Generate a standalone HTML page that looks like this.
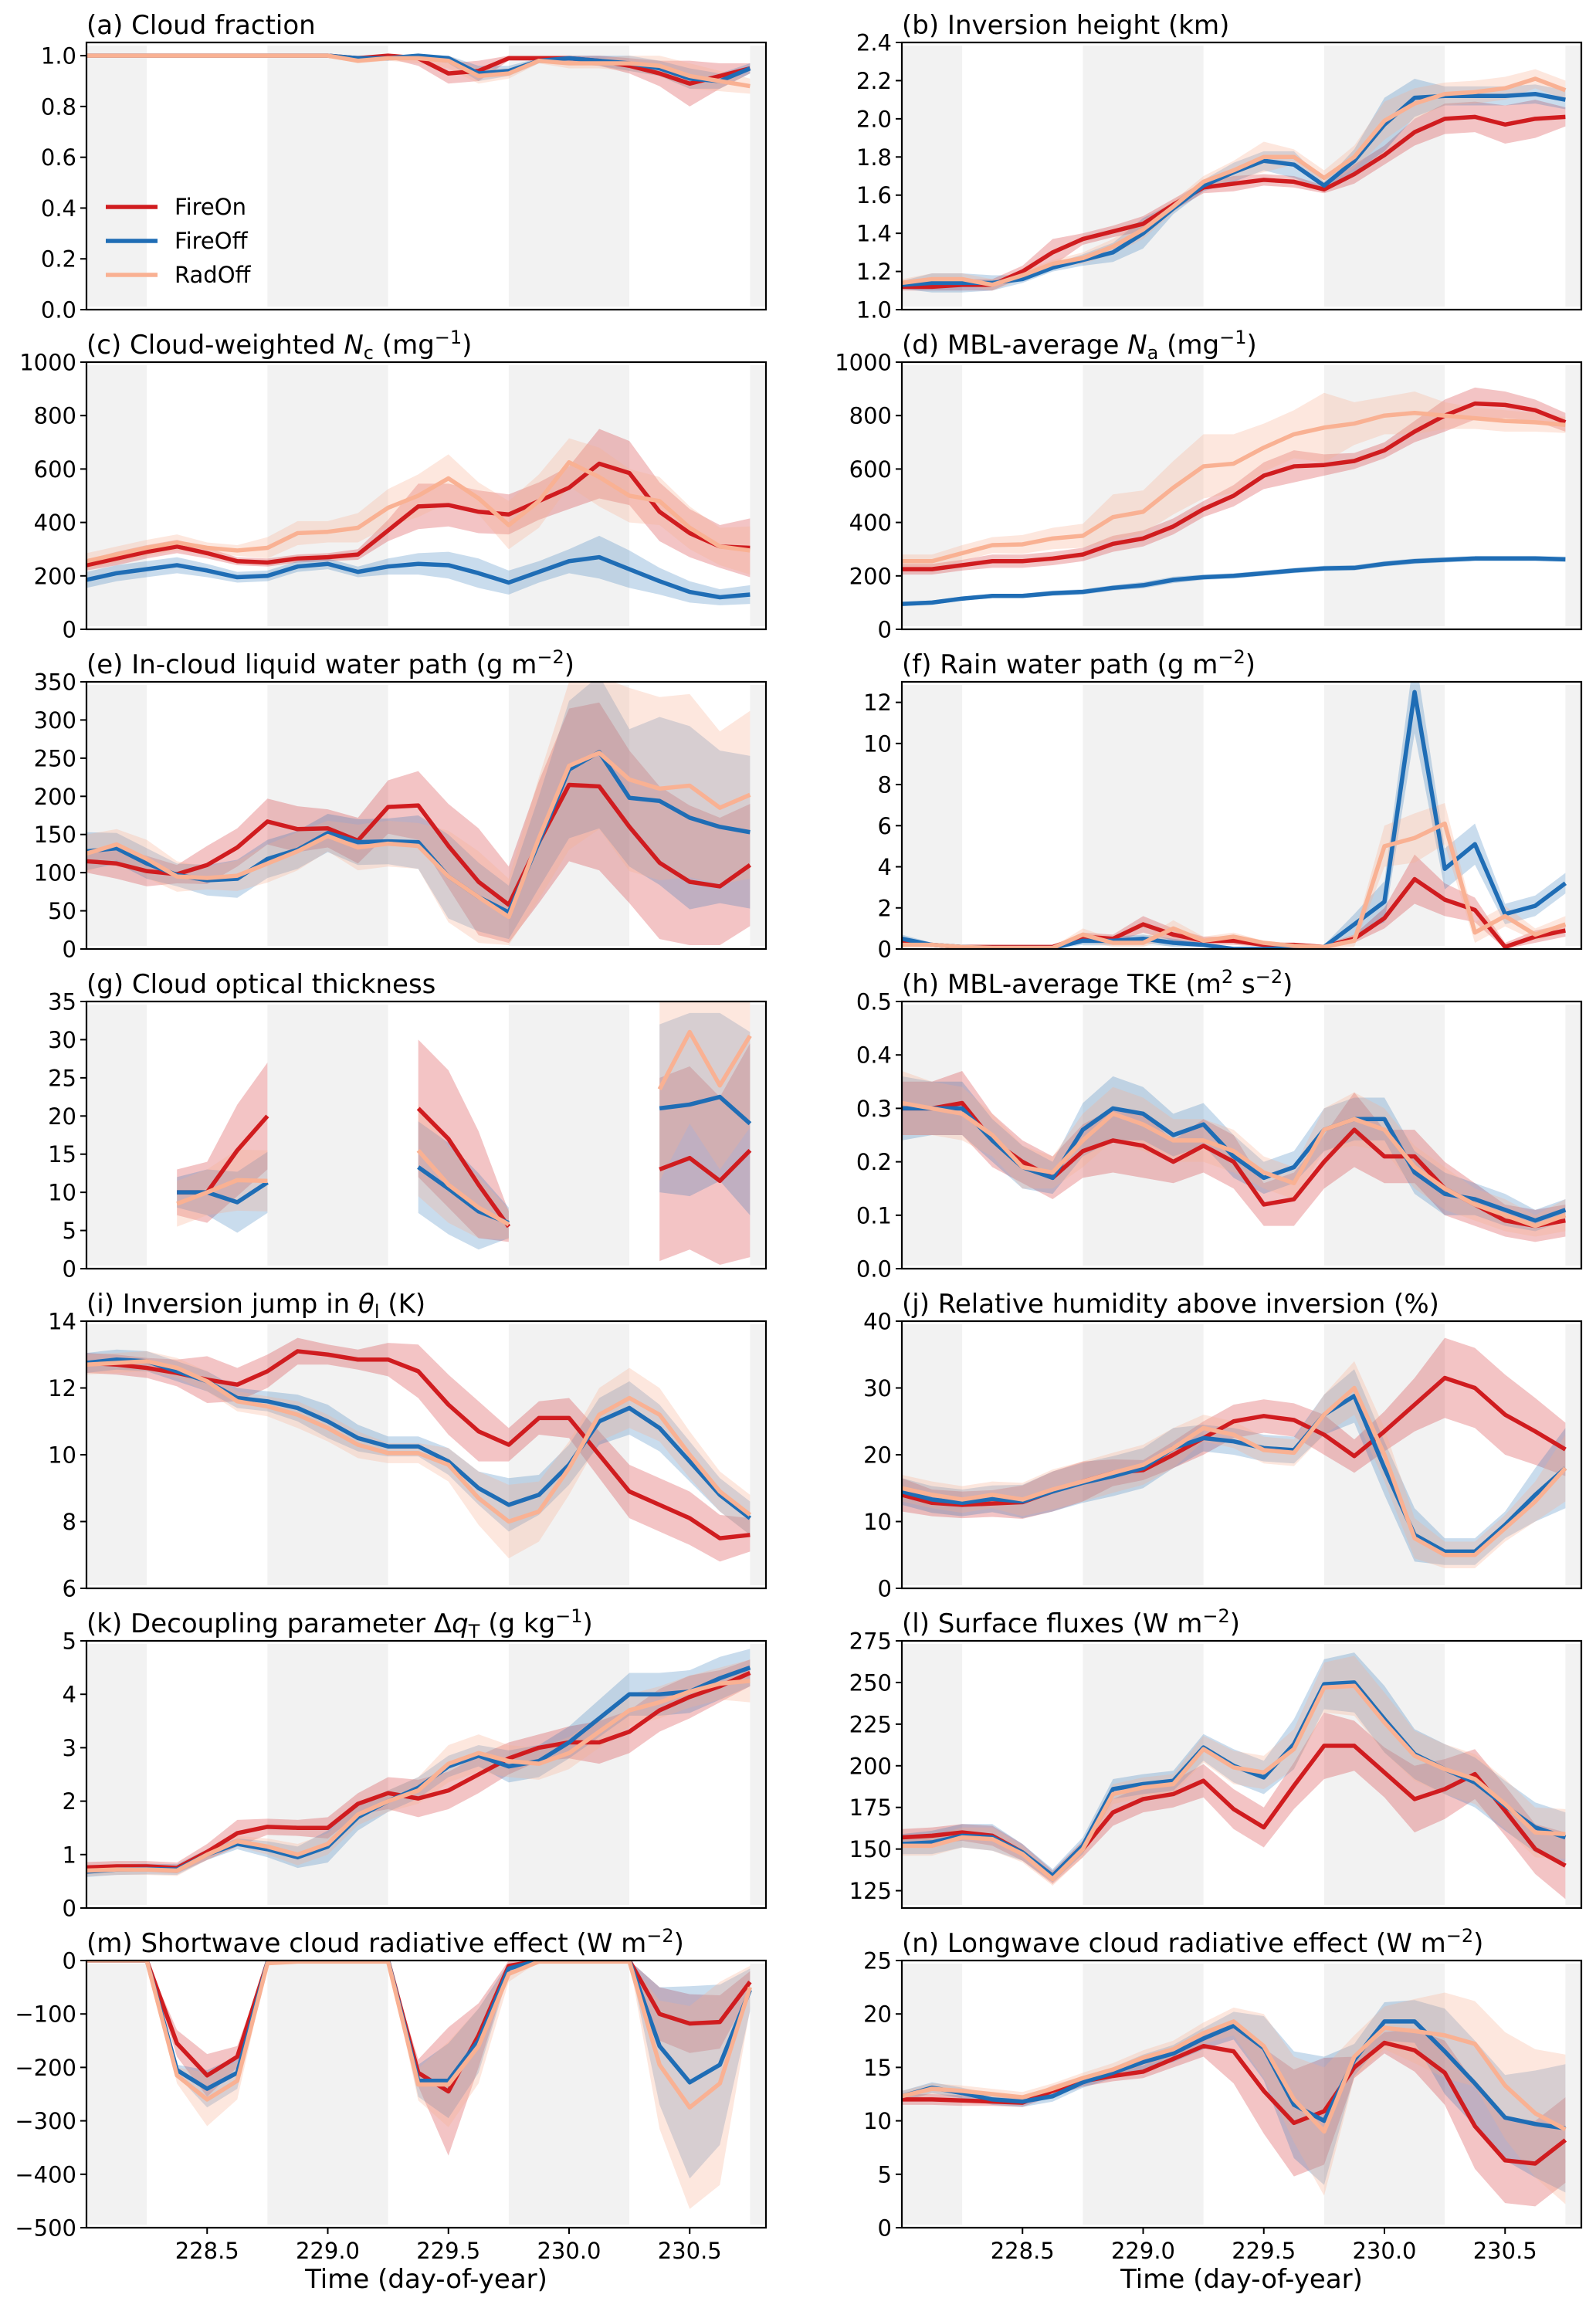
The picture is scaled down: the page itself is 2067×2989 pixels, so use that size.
<!DOCTYPE html>
<html><head><meta charset="utf-8"><style>
html,body{margin:0;padding:0;background:#fff;}
svg{display:block;font-family:"DejaVu Sans","Liberation Sans",sans-serif;}
.ttl{font-size:34px;fill:#000;}
.tk{font-size:29px;fill:#000;}
</style></head><body>
<svg id="fig" xmlns="http://www.w3.org/2000/svg" width="2067" height="2989" viewBox="0 0 2067 2989">
<rect x="0" y="0" width="2067" height="2989" fill="#fff"/>
<g id="titles">
<text class="ttl" x="112" y="44">(a) Cloud fraction</text>
<text class="ttl" x="1168" y="44">(b) Inversion height (km)</text>
<text class="ttl" x="112" y="458">(c) Cloud-weighted <tspan font-style="italic">N</tspan><tspan font-size="24" dy="7">c</tspan><tspan dy="-7"> (mg</tspan><tspan font-size="24" dy="-13">−1</tspan><tspan dy="13">)</tspan></text>
<text class="ttl" x="1168" y="458">(d) MBL-average <tspan font-style="italic">N</tspan><tspan font-size="24" dy="7">a</tspan><tspan dy="-7"> (mg</tspan><tspan font-size="24" dy="-13">−1</tspan><tspan dy="13">)</tspan></text>
<text class="ttl" x="112" y="872">(e) In-cloud liquid water path (g m<tspan font-size="24" dy="-13">−2</tspan><tspan dy="13">)</tspan></text>
<text class="ttl" x="1168" y="872">(f) Rain water path (g m<tspan font-size="24" dy="-13">−2</tspan><tspan dy="13">)</tspan></text>
<text class="ttl" x="112" y="1286">(g) Cloud optical thickness</text>
<text class="ttl" x="1168" y="1286">(h) MBL-average TKE (m<tspan font-size="24" dy="-13">2</tspan><tspan dy="13"> s</tspan><tspan font-size="24" dy="-13">−2</tspan><tspan dy="13">)</tspan></text>
<text class="ttl" x="112" y="1700">(i) Inversion jump in <tspan font-style="italic">θ</tspan><tspan font-size="24" dy="7">l</tspan><tspan dy="-7"> (K)</tspan></text>
<text class="ttl" x="1168" y="1700">(j) Relative humidity above inversion (%)</text>
<text class="ttl" x="112" y="2114">(k) Decoupling parameter Δ<tspan font-style="italic">q</tspan><tspan font-size="24" dy="7">T</tspan><tspan dy="-7"> (g kg</tspan><tspan font-size="24" dy="-13">−1</tspan><tspan dy="13">)</tspan></text>
<text class="ttl" x="1168" y="2114">(l) Surface fluxes (W m<tspan font-size="24" dy="-13">−2</tspan><tspan dy="13">)</tspan></text>
<text class="ttl" x="112" y="2528">(m) Shortwave cloud radiative effect (W m<tspan font-size="24" dy="-13">−2</tspan><tspan dy="13">)</tspan></text>
<text class="ttl" x="1168" y="2528">(n) Longwave cloud radiative effect (W m<tspan font-size="24" dy="-13">−2</tspan><tspan dy="13">)</tspan></text>
</g>
<text class="ttl" x="552" y="2963" text-anchor="middle" font-size="33">Time (day-of-year)</text>
<text class="ttl" x="1608" y="2963" text-anchor="middle" font-size="33">Time (day-of-year)</text>
<g id="plots"></g>
<g id="legend">
<line x1="137" y1="268" x2="204" y2="268" stroke="#d01c1f" stroke-width="5.5"/>
<text class="tk" x="226" y="278">FireOn</text>
<line x1="137" y1="312" x2="204" y2="312" stroke="#1f6db5" stroke-width="5.5"/>
<text class="tk" x="226" y="322">FireOff</text>
<line x1="137" y1="356" x2="204" y2="356" stroke="#f9b193" stroke-width="5.5"/>
<text class="tk" x="226" y="366">RadOff</text>
</g>
</svg>
<script>
const T=[228.0,228.125,228.25,228.375,228.5,228.625,228.75,228.875,229.0,229.125,229.25,229.375,229.5,229.625,229.75,229.875,230.0,230.125,230.25,230.375,230.5,230.625,230.75];
const xTicks=[228.5,229.0,229.5,230.0,230.5];
const xTickLabels=["228.5","229.0","229.5","230.0","230.5"];
const nights=[[227.9,228.25],[228.75,229.25],[229.75,230.25],[230.75,231]];
const n_=null;
// (a)
const aR=[1,1,1,1,1,1,1,1,1,0.99,1,0.99,0.93,0.94,0.99,0.99,0.99,0.98,0.96,0.93,0.89,0.92,0.95];
const aB=[1,1,1,1,1,1,1,1,1,0.99,0.99,1,0.99,0.93,0.94,0.98,0.99,0.98,0.97,0.95,0.91,0.9,0.95];
const aO=[1,1,1,1,1,1,1,1,1,0.98,0.99,0.99,0.98,0.92,0.93,0.98,0.97,0.97,0.97,0.96,0.92,0.9,0.88];
const aRs=[.005,.005,.005,.005,.005,.005,.005,.005,.005,.01,.01,.03,.04,.04,.01,.01,.02,.02,.03,.05,.09,.05,.02];
const aBs=[.005,.005,.005,.005,.005,.005,.005,.005,.005,.01,.01,.01,.02,.03,.02,.01,.02,.02,.03,.03,.04,.03,.02];
const aOs=[.005,.005,.005,.005,.005,.005,.005,.005,.005,.01,.01,.02,.03,.03,.02,.01,.02,.02,.03,.04,.05,.04,.03];
// (b)
const bR=[1.12,1.12,1.13,1.13,1.2,1.3,1.37,1.41,1.45,1.55,1.64,1.66,1.68,1.67,1.63,1.71,1.81,1.93,2.0,2.01,1.97,2.0,2.01];
const bB=[1.13,1.14,1.14,1.14,1.16,1.22,1.26,1.3,1.4,1.53,1.65,1.72,1.78,1.76,1.65,1.78,1.97,2.11,2.12,2.12,2.12,2.13,2.1];
const bO=[1.14,1.16,1.16,1.13,1.18,1.24,1.27,1.33,1.42,1.54,1.67,1.73,1.8,1.8,1.69,1.8,1.99,2.08,2.13,2.14,2.16,2.21,2.15];
const bRs=[.02,.02,.03,.03,.03,.07,.03,.03,.04,.03,.03,.04,.03,.03,.02,.05,.05,.07,.08,.08,.1,.1,.05];
const bBs=[.02,.05,.05,.04,.02,.02,.03,.05,.08,.03,.03,.05,.05,.07,.02,.06,.14,.1,.05,.05,.05,.05,.05];
const bOs=[.02,.03,.03,.03,.02,.02,.03,.04,.05,.03,.03,.05,.08,.04,.04,.06,.1,.08,.06,.06,.06,.05,.05];
// (c)
const cR=[240,265,290,310,285,255,250,265,270,280,370,460,465,440,430,480,530,620,585,440,360,310,305];
const cB=[185,210,225,240,220,195,200,235,245,215,235,245,240,210,175,215,255,270,225,180,140,120,130];
const cO=[255,280,305,325,305,295,305,360,365,380,455,500,565,490,390,480,625,570,500,480,380,310,295];
const cRs=[20,25,25,25,20,15,15,15,15,20,40,85,80,80,75,70,80,130,120,110,90,80,110];
const cBs=[30,30,30,30,25,20,20,20,20,20,30,40,50,55,45,40,45,80,70,50,40,30,35];
const cOs=[30,30,30,30,20,20,40,45,40,55,70,80,90,60,90,100,90,110,100,90,80,70,90];
// (d)
const dR=[225,225,240,255,255,265,280,320,340,385,450,500,575,610,615,630,670,740,800,845,840,820,775];
const dB=[95,100,115,125,125,135,140,155,165,185,195,200,210,220,228,230,245,255,260,265,265,265,262];
const dO=[255,255,285,315,318,340,350,420,440,530,610,620,680,730,755,770,800,810,800,790,780,775,765];
const dRs=[20,20,20,25,25,25,25,30,30,30,30,40,50,60,40,30,30,40,60,60,50,40,35];
const dBs=[8,8,8,8,8,10,10,10,12,12,10,10,10,10,10,10,10,10,10,10,10,10,10];
const dOs=[25,25,30,30,35,40,45,85,80,100,120,110,90,90,130,80,70,80,50,40,40,35,30];
// (e)
const eR=[115,112,102,98,110,133,167,157,158,142,186,188,135,88,58,140,215,213,160,113,88,82,110];
const eB=[128,132,112,97,90,92,118,130,152,140,141,140,95,68,48,140,235,258,198,194,172,160,153];
const eO=[125,137,118,95,93,96,112,128,148,133,138,135,95,68,42,145,240,257,222,210,214,185,202];
const eRs=[15,20,20,12,25,25,30,30,25,30,35,45,55,70,50,80,100,110,100,100,100,90,80];
const eBs=[25,20,20,15,20,25,25,25,25,30,30,35,55,45,35,60,90,100,90,110,120,100,100];
const eOs=[25,20,25,20,15,20,25,25,20,30,30,30,60,60,50,80,110,100,120,120,120,100,110];
// (f)
const fR=[0.3,0.2,0.1,0.1,0.1,0.1,0.6,0.5,1.2,0.7,0.4,0.4,0.2,0.2,0.1,0.5,1.5,3.4,2.4,1.9,0.1,0.6,0.9];
const fB=[0.5,0.2,0.1,0.05,0.05,0.05,0.4,0.4,0.5,0.3,0.2,0.0,0.0,0.05,0.1,1.2,2.3,12.5,3.9,5.1,1.7,2.1,3.2];
const fO=[0.2,0.2,0.1,0.05,0.05,0.05,0.7,0.3,0.3,1.0,0.4,0.6,0.3,0.15,0.1,0.4,5.0,5.4,6.1,0.8,1.6,0.7,1.2];
const fRs=[.1,.1,.05,.05,.05,.05,.2,.2,.4,.3,.2,.2,.1,.1,.1,.2,.5,1.2,.8,.6,.2,.3,.3];
const fBs=[.2,.1,.05,.05,.05,.05,.2,.2,.2,.2,.1,.1,.1,.1,.1,.5,1,2,1,1,.5,.5,.5];
const fOs=[.1,.1,.05,.05,.05,.05,.3,.2,.2,.4,.2,.2,.1,.1,.1,.3,1,1.2,1,.5,.5,.3,.4];
// (g)
const gR=[n_,n_,n_,10,10,15.5,20,n_,n_,n_,n_,21,17,11,5.5,n_,n_,n_,n_,13,14.5,11.5,15.5];
const gB=[n_,n_,n_,10,10,8.7,11.3,n_,n_,n_,n_,13.3,10.5,7.5,6,n_,n_,n_,n_,21,21.5,22.5,19];
const gO=[n_,n_,n_,8.5,10,11.6,11.5,n_,n_,n_,n_,15.5,11,8,5.8,n_,n_,n_,n_,23.5,31,24,30.5];
const gRs=[n_,n_,n_,3,4,6,7,n_,n_,n_,n_,9,9,7,2,n_,n_,n_,n_,12,12,11,14];
const gBs=[n_,n_,n_,2,3,4,4,n_,n_,n_,n_,6,6,5,2,n_,n_,n_,n_,11,12,11,12];
const gOs=[n_,n_,n_,3,3,4,4,n_,n_,n_,n_,6,5,4,2,n_,n_,n_,n_,12,12,11,12];
// (h)
const hR=[0.30,0.30,0.31,0.24,0.20,0.17,0.22,0.24,0.23,0.20,0.23,0.20,0.12,0.13,0.20,0.26,0.21,0.21,0.15,0.12,0.09,0.08,0.09];
const hB=[0.30,0.30,0.30,0.24,0.19,0.17,0.26,0.30,0.29,0.25,0.27,0.21,0.17,0.19,0.26,0.28,0.28,0.18,0.14,0.13,0.11,0.09,0.11];
const hO=[0.31,0.30,0.29,0.25,0.19,0.18,0.24,0.29,0.27,0.24,0.24,0.22,0.18,0.16,0.26,0.28,0.26,0.19,0.15,0.12,0.10,0.08,0.10];
const hRs=[.05,.05,.06,.05,.04,.04,.05,.06,.06,.04,.05,.05,.04,.05,.05,.07,.05,.05,.05,.04,.03,.03,.03];
const hBs=[.06,.05,.05,.04,.04,.03,.05,.06,.05,.04,.04,.04,.03,.03,.04,.04,.04,.04,.04,.03,.03,.02,.02];
const hOs=[.06,.05,.05,.04,.04,.03,.05,.05,.05,.04,.04,.04,.03,.03,.04,.05,.04,.04,.04,.03,.03,.02,.03];
// (i)
const iR=[12.75,12.7,12.6,12.45,12.25,12.1,12.5,13.1,13.0,12.85,12.85,12.5,11.5,10.7,10.3,11.1,11.1,10.0,8.9,8.5,8.1,7.5,7.6];
const iB=[12.75,12.85,12.8,12.5,12.2,11.7,11.6,11.4,11.0,10.5,10.25,10.25,9.8,9.0,8.5,8.8,9.7,11.0,11.4,10.8,9.8,8.8,8.1];
const iO=[12.7,12.75,12.8,12.6,12.2,11.6,11.45,11.2,10.8,10.3,10.05,10.05,9.7,8.7,8.0,8.3,9.6,11.2,11.7,11.2,10.0,8.9,8.2];
const iRs=[.3,.3,.3,.4,.7,.5,.5,.4,.3,.3,.5,.8,.9,.9,.5,.5,.6,.7,.8,.8,.8,.7,.5];
const iBs=[.3,.3,.3,.3,.3,.3,.3,.4,.5,.4,.3,.3,.4,.5,.8,.6,.6,.7,.8,.7,.6,.5,.5];
const iOs=[.3,.3,.3,.3,.3,.3,.3,.4,.4,.4,.3,.3,.5,.8,1.1,.9,.8,.8,.9,.8,.7,.6,.6];
// (j)
const jR=[14,12.8,12.5,12.7,12.9,14.5,16,17.3,17.7,20,22.5,25,25.8,25.2,23,19.8,23.5,27.5,31.5,30,26,23.5,20.8];
const jB=[14.5,13.3,12.8,13.4,13,14.5,15.8,16.8,18,21,22.5,22,21,20.7,26,28.8,18,8,5.5,5.5,9.5,14,18];
const jO=[15,14,13.3,14,13.3,14.8,16,17.3,18.5,21,24,23,20.7,20.3,26,30,20,7.5,5,5,9,13,18];
const jRs=[2.5,2,2,2,2.5,3,3,2,1.5,2,2.5,2.5,2.5,2.5,3,2.5,3,4,6,6,6,5,4];
const jBs=[2,2,2,2,2.5,3,3,3,3,3,2,2,2,2,3,4,4,4,2,2,2,4,6];
const jOs=[2,2,2,2,2.5,3,3,3,3,3,2,2,2,2,3,4,4,3,2,2,2,3,5];
// (k)
const kR=[0.76,0.78,0.78,0.75,1.05,1.4,1.52,1.5,1.5,1.95,2.15,2.05,2.2,2.5,2.8,3.0,3.1,3.1,3.3,3.7,3.95,4.15,4.4];
const kB=[0.68,0.72,0.73,0.72,1.0,1.2,1.1,0.95,1.15,1.7,2.0,2.25,2.65,2.85,2.65,2.75,3.1,3.55,4.0,4.0,4.05,4.3,4.5];
const kO=[0.7,0.72,0.72,0.7,1.0,1.25,1.15,1.0,1.2,1.75,2.0,2.2,2.7,2.9,2.75,2.7,2.9,3.3,3.7,3.85,4.05,4.2,4.25];
const kRs=[.1,.1,.1,.1,.15,.25,.15,.15,.2,.2,.3,.35,.35,.35,.3,.25,.3,.4,.4,.4,.4,.3,.25];
const kBs=[.1,.1,.1,.1,.1,.1,.15,.2,.3,.25,.2,.2,.2,.2,.3,.3,.3,.35,.4,.4,.4,.4,.35];
const kOs=[.1,.1,.1,.1,.1,.1,.15,.2,.2,.2,.2,.25,.35,.35,.3,.3,.3,.3,.3,.3,.3,.3,.4];
// (l)
const lR=[157,158,160,158,148,133,150,172,180,183,191,174,163,188,212,212,196,180,186,195,173,150,140];
const lB=[153,154,158,157,148,134,152,186,189,191,211,200,193,213,249,250,228,207,198,190,176,163,157];
const lO=[152,152,157,156,147,132,150,183,187,189,210,199,196,210,247,248,226,206,198,192,177,160,159];
const lRs=[5,5,5,6,5,4,5,8,8,8,10,12,12,14,20,15,15,20,18,15,15,15,20];
const lBs=[6,7,7,8,5,4,5,6,6,6,8,10,10,15,15,18,20,15,15,15,15,15,15];
const lOs=[6,6,6,7,5,4,5,6,6,6,8,10,10,12,15,18,18,15,15,15,15,15,15];
// (m)
const mR=[0,0,0,-155,-215,-180,-3,0,0,0,0,-210,-245,-140,-10,0,0,0,0,-100,-118,-115,-40];
const mB=[0,0,0,-205,-240,-210,-3,0,0,0,0,-225,-225,-150,-15,0,0,0,0,-160,-228,-195,-55];
const mO=[0,0,0,-215,-260,-225,-5,-2,-2,-2,-2,-232,-232,-160,-25,-2,-2,-2,-2,-195,-275,-230,-50];
const mRs=[0,0,0,25,40,20,2,0,0,0,0,25,120,60,10,0,0,0,0,50,55,50,20];
const mBs=[0,0,0,10,35,30,2,0,0,0,0,30,70,60,10,0,0,0,0,110,180,150,40];
const mOs=[0,0,0,15,50,35,3,0,0,0,0,30,80,70,15,0,0,0,0,120,190,190,40];
// (n)
const nR=[12,12,11.9,11.8,11.7,12.8,13.7,14.2,14.6,15.8,17,16.5,12.8,9.8,10.9,15,17.3,16.6,14.5,9.5,6.3,6,8.2];
const nB=[12.3,13.1,12.6,12.0,11.8,12.3,13.6,14.5,15.5,16.3,17.7,18.9,16.8,11.5,10,15.7,19.3,19.3,16.5,13.5,10.3,9.7,9.3];
const nO=[12.3,13,12.8,12.5,12.2,13,14,14.8,15.9,16.7,18.2,19.3,17,12,9,16,18.7,18.4,18,17.2,13.3,10.7,9.2];
const nRs=[.5,.5,.5,.4,.4,.5,.5,.5,.6,.8,1,3,4,5,5,1,1,2,3,4,4,4,4];
const nBs=[.5,.5,.5,.5,.5,.5,.5,.5,.7,.8,1,1.3,3,5,6,1.5,1.8,2,4,4,4,5,6];
const nOs=[.5,.5,.5,.5,.5,.5,.5,.6,.7,.8,1,1.3,3,4,6,2,2,3,4,4,5,6,7];
// y tick values / labels
const aTicks=[0,0.2,0.4,0.6,0.8,1.0], aLabels=["0.0","0.2","0.4","0.6","0.8","1.0"];
const bTicks=[1.0,1.2,1.4,1.6,1.8,2.0,2.2,2.4], bLabels=["1.0","1.2","1.4","1.6","1.8","2.0","2.2","2.4"];
const cTicks=[0,200,400,600,800,1000], cLabels=["0","200","400","600","800","1000"];
const eTicks=[0,50,100,150,200,250,300,350], eLabels=["0","50","100","150","200","250","300","350"];
const fTicks=[0,2,4,6,8,10,12], fLabels=["0","2","4","6","8","10","12"];
const gTicks=[0,5,10,15,20,25,30,35], gLabels=["0","5","10","15","20","25","30","35"];
const hTicks=[0,0.1,0.2,0.3,0.4,0.5], hLabels=["0.0","0.1","0.2","0.3","0.4","0.5"];
const iTicks=[6,8,10,12,14], iLabels=["6","8","10","12","14"];
const jTicks=[0,10,20,30,40], jLabels=["0","10","20","30","40"];
const kTicks=[0,1,2,3,4,5], kLabels=["0","1","2","3","4","5"];
const lTicks=[125,150,175,200,225,250,275], lLabels=["125","150","175","200","225","250","275"];
const mTicks=[-500,-400,-300,-200,-100,0], mLabels=["−500","−400","−300","−200","−100","0"];
const nTicks=[0,5,10,15,20,25], nLabels=["0","5","10","15","20","25"];

const XMIN=228.0, XMAX=230.816;
const COL=["#d01c1f","#1f6db5","#f9b193"];
const FILL=["rgba(208,28,31,0.26)","rgba(31,109,181,0.24)","rgba(249,177,147,0.3)"];
const SNAME=["fireon","fireoff","radoff"];
const NS="http://www.w3.org/2000/svg";
const panels=[
 {id:"a",c:0,r:0,lo:0,hi:1.052,s:[aR,aB,aO],sp:[aRs,aBs,aOs],tk:aTicks,tl:aLabels,cmax:1},
 {id:"b",c:1,r:0,lo:1.0,hi:2.4,s:[bR,bB,bO],sp:[bRs,bBs,bOs],tk:bTicks,tl:bLabels},
 {id:"c",c:0,r:1,lo:0,hi:1000,s:[cR,cB,cO],sp:[cRs,cBs,cOs],tk:cTicks,tl:cLabels},
 {id:"d",c:1,r:1,lo:0,hi:1000,s:[dR,dB,dO],sp:[dRs,dBs,dOs],tk:cTicks,tl:cLabels},
 {id:"e",c:0,r:2,lo:0,hi:350,s:[eR,eB,eO],sp:[eRs,eBs,eOs],tk:eTicks,tl:eLabels,cmin:5},
 {id:"f",c:1,r:2,lo:0,hi:13,s:[fR,fB,fO],sp:[fRs,fBs,fOs],tk:fTicks,tl:fLabels,cmin:0},
 {id:"g",c:0,r:3,lo:0,hi:35,s:[gR,gB,gO],sp:[gRs,gBs,gOs],tk:gTicks,tl:gLabels,cmin:0.5},
 {id:"h",c:1,r:3,lo:0,hi:0.5,s:[hR,hB,hO],sp:[hRs,hBs,hOs],tk:hTicks,tl:hLabels},
 {id:"i",c:0,r:4,lo:6,hi:14,s:[iR,iB,iO],sp:[iRs,iBs,iOs],tk:iTicks,tl:iLabels},
 {id:"j",c:1,r:4,lo:0,hi:40,s:[jR,jB,jO],sp:[jRs,jBs,jOs],tk:jTicks,tl:jLabels},
 {id:"k",c:0,r:5,lo:0,hi:5,s:[kR,kB,kO],sp:[kRs,kBs,kOs],tk:kTicks,tl:kLabels},
 {id:"l",c:1,r:5,lo:114.6,hi:275,s:[lR,lB,lO],sp:[lRs,lBs,lOs],tk:lTicks,tl:lLabels},
 {id:"m",c:0,r:6,lo:-500,hi:0,s:[mR,mB,mO],sp:[mRs,mBs,mOs],tk:mTicks,tl:mLabels,cmax:0,xt:true},
 {id:"n",c:1,r:6,lo:0,hi:25,s:[nR,nB,nO],sp:[nRs,nBs,nOs],tk:nTicks,tl:nLabels,xt:true}
];
const root=document.getElementById("plots");
function mk(tag,attrs,parent){const e=document.createElementNS(NS,tag);for(const k in attrs)e.setAttribute(k,attrs[k]);parent.appendChild(e);return e;}
function segments(arr){const out=[];let cur=[];arr.forEach((v,i)=>{if(v===null){if(cur.length)out.push(cur);cur=[];}else cur.push(i);});if(cur.length)out.push(cur);return out;}

panels.forEach(p=>{
  const x0=p.c?1168:112, y0=55+414*p.r, w=880, h=346;
  const sx=t=>x0+(t-XMIN)/(XMAX-XMIN)*w;
  const sy=v=>y0+h-(v-p.lo)/(p.hi-p.lo)*h;
  const g=mk("g",{},root);
  
  
  const cp=mk("clipPath",{id:"clip"+p.id},g);
  mk("rect",{x:x0,y:y0,width:w,height:h},cp);
  const inner=mk("g",{"clip-path":"url(#clip"+p.id+")"},g);
  nights.forEach((nb,k)=>{
    const a=Math.max(sx(nb[0]),x0), b=Math.min(sx(nb[1]),x0+w);
    const r=mk("rect",{x:a,y:y0+4,width:Math.max(0,b-a),height:h-8,fill:"#f2f2f2"},inner);
    
    
  });
  p.s.forEach((ser,si)=>{
    const sp=p.sp[si];
    segments(ser).forEach((seg,qi)=>{
      let up=[],dn=[];
      seg.forEach(i=>{
        let hiV=ser[i]+sp[i], loV=ser[i]-sp[i];
        if(p.cmax!==undefined)hiV=Math.min(hiV,p.cmax);
        if(p.cmin!==undefined)loV=Math.max(loV,p.cmin);
        up.push(sx(T[i])+","+sy(hiV)); dn.unshift(sx(T[i])+","+sy(loV));
      });
      const band=mk("polygon",{points:up.concat(dn).join(" "),fill:FILL[si],stroke:"none"},inner);
      
      
    });
  });
  p.s.forEach((ser,si)=>{
    segments(ser).forEach(seg=>{
      const pts=seg.map(i=>sx(T[i])+","+sy(ser[i])).join(" ");
      const ln=mk("polyline",{points:pts,fill:"none",stroke:COL[si],"stroke-width":5.5,"stroke-linejoin":"round"},inner);
      
      
    });
  });
  const fr=mk("rect",{x:x0,y:y0,width:w,height:h,fill:"none",stroke:"#000","stroke-width":2.2},g);
  
  
  p.tk.forEach((v,k)=>{
    const y=sy(v);
    mk("line",{x1:x0-8,y1:y,x2:x0,y2:y,stroke:"#000","stroke-width":2},g);
    const t=mk("text",{x:x0-13,y:y+10.5,"text-anchor":"end",class:"tk"},g);
    t.textContent=p.tl[k];
    
    
  });
  if(p.xt){
    xTicks.forEach((v,k)=>{
      const x=sx(v);
      mk("line",{x1:x,y1:y0+h,x2:x,y2:y0+h+8,stroke:"#000","stroke-width":2},g);
      const t=mk("text",{x:x,y:y0+h+40,"text-anchor":"middle",class:"tk"},g);
      t.textContent=xTickLabels[k];
      
      
    });
  }
});
</script>
</body></html>
